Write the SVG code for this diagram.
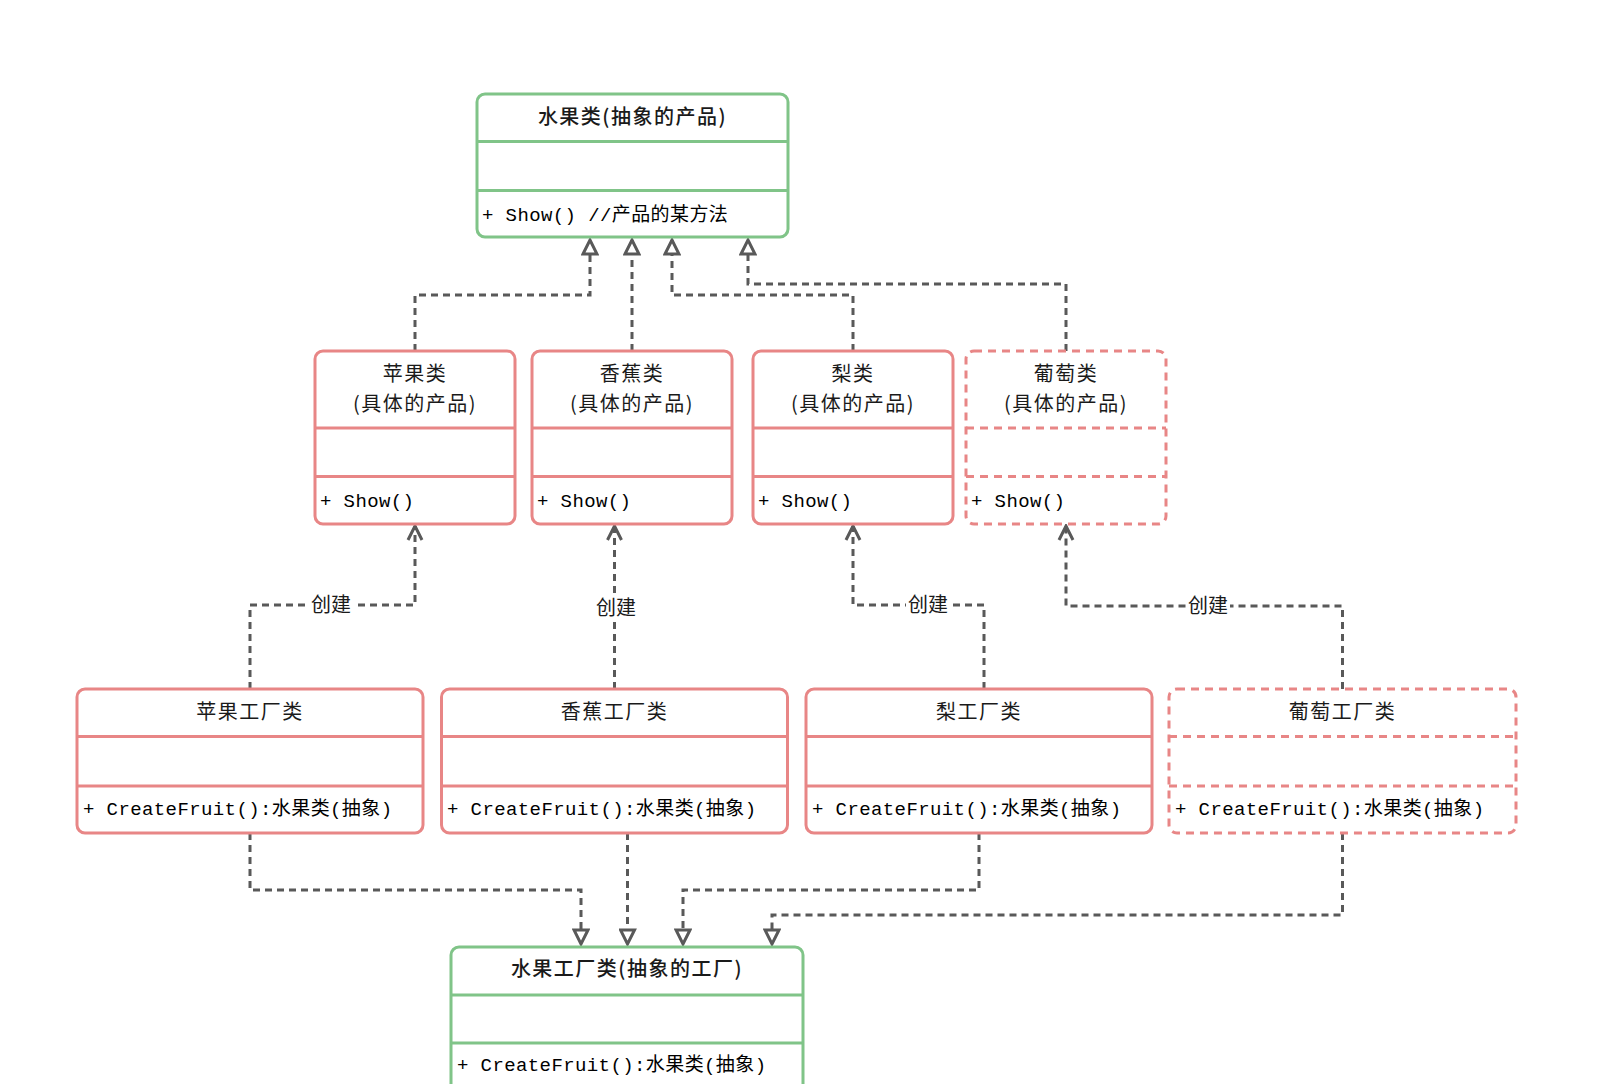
<svg xmlns="http://www.w3.org/2000/svg" width="1611" height="1084" viewBox="0 0 1611 1084">
<style>
.bg{fill:#ffffff}
.g{fill:#ffffff;stroke:#80c488;stroke-width:3}
.gl{stroke:#80c488;stroke-width:3;fill:none}
.r{fill:#ffffff;stroke:#e88686;stroke-width:3}
.rl{stroke:#e88686;stroke-width:3;fill:none}
.d{stroke-dasharray:8 6}
.title{font-family:"Noto Sans CJK SC","Liberation Serif",serif;font-size:20px;fill:#1a1a1a;text-anchor:middle;letter-spacing:1.5px}
.bold{font-weight:500}
.m{font-family:"Liberation Mono","Noto Sans CJK SC",monospace;font-size:19px;fill:#000000;letter-spacing:0.4px}
.c{stroke:#595959;stroke-width:3;fill:none;stroke-dasharray:7 5}
.lbl{font-family:"Noto Sans CJK SC","Liberation Sans",sans-serif;font-size:20px;fill:#1a1a1a;text-anchor:middle}
</style>
<defs>
<marker id="tri" markerUnits="userSpaceOnUse" markerWidth="18" markerHeight="18" viewBox="-2 -2 18 18" refX="14" refY="7" orient="auto">
<path d="M0,0 L14,7 L0,14 Z" fill="#ffffff" stroke="#595959" stroke-width="3" stroke-linejoin="miter"/>
</marker>
<marker id="open" markerUnits="userSpaceOnUse" markerWidth="18" markerHeight="18" viewBox="-2 -2 18 18" refX="14" refY="7" orient="auto">
<path d="M0,0 L14,7 L0,14" fill="none" stroke="#595959" stroke-width="3"/>
</marker>
</defs>
<rect class="bg" x="0" y="0" width="1611" height="1084"/>

<g id="connectors">
<path class="c" d="M415,351 V295 H590 V240" marker-end="url(#tri)"/>
<path class="c" d="M632,351 V240" marker-end="url(#tri)"/>
<path class="c" d="M853,351 V295 H672 V240" marker-end="url(#tri)"/>
<path class="c" d="M1066,351 V284 H748 V240" marker-end="url(#tri)"/>
<path class="c" d="M250,689 V605 H415 V526" marker-end="url(#open)"/>
<path class="c" d="M614.5,689 V526" marker-end="url(#open)"/>
<path class="c" d="M984,689 V605 H853 V526" marker-end="url(#open)"/>
<path class="c" d="M1342.5,689 V606 H1066 V526" marker-end="url(#open)"/>
<path class="c" d="M250,833 V890 H581 V944" marker-end="url(#tri)"/>
<path class="c" d="M627.5,833 V944" marker-end="url(#tri)"/>
<path class="c" d="M979,833 V890 H683 V944" marker-end="url(#tri)"/>
<path class="c" d="M1342.5,833 V915 H772 V944" marker-end="url(#tri)"/>
<rect x="309" y="592" width="44" height="26" fill="#ffffff"/>
<text class="lbl" x="331" y="612">创建</text>
<rect x="594" y="595" width="44" height="26" fill="#ffffff"/>
<text class="lbl" x="616" y="615">创建</text>
<rect x="906" y="592" width="44" height="26" fill="#ffffff"/>
<text class="lbl" x="928" y="612">创建</text>
<rect x="1186" y="593" width="44" height="26" fill="#ffffff"/>
<text class="lbl" x="1208" y="613">创建</text>
</g>

<g id="fruit">
<rect class="g" x="477" y="94" width="311" height="143" rx="8"/>
<line class="gl" x1="477" y1="141.5" x2="788" y2="141.5"/>
<line class="gl" x1="477" y1="190.5" x2="788" y2="190.5"/>
<text class="title bold" x="632.5" y="124">水果类(抽象的产品)</text>
<text class="m" x="482" y="221">+ Show() //产品的某方法</text>
</g>

<g id="apple">
<rect class="r" x="315" y="351" width="200" height="173" rx="8"/>
<line class="rl" x1="315" y1="428" x2="515" y2="428"/>
<line class="rl" x1="315" y1="476.5" x2="515" y2="476.5"/>
<text class="title" x="415" y="381">苹果类</text>
<text class="title" x="415" y="411">(具体的产品)</text>
<text class="m" x="320" y="507">+ Show()</text>
</g>

<g id="banana">
<rect class="r" x="532" y="351" width="200" height="173" rx="8"/>
<line class="rl" x1="532" y1="428" x2="732" y2="428"/>
<line class="rl" x1="532" y1="476.5" x2="732" y2="476.5"/>
<text class="title" x="632" y="381">香蕉类</text>
<text class="title" x="632" y="411">(具体的产品)</text>
<text class="m" x="537" y="507">+ Show()</text>
</g>

<g id="pear">
<rect class="r" x="753" y="351" width="200" height="173" rx="8"/>
<line class="rl" x1="753" y1="428" x2="953" y2="428"/>
<line class="rl" x1="753" y1="476.5" x2="953" y2="476.5"/>
<text class="title" x="853" y="381">梨类</text>
<text class="title" x="853" y="411">(具体的产品)</text>
<text class="m" x="758" y="507">+ Show()</text>
</g>

<g id="grape">
<rect class="r d" x="966" y="351" width="200" height="173" rx="8"/>
<line class="rl d" x1="966" y1="428" x2="1166" y2="428"/>
<line class="rl d" x1="966" y1="476.5" x2="1166" y2="476.5"/>
<text class="title" x="1066" y="381">葡萄类</text>
<text class="title" x="1066" y="411">(具体的产品)</text>
<text class="m" x="971" y="507">+ Show()</text>
</g>

<g id="apple-factory">
<rect class="r" x="77" y="689" width="346" height="144" rx="8"/>
<line class="rl" x1="77" y1="736.5" x2="423" y2="736.5"/>
<line class="rl" x1="77" y1="786" x2="423" y2="786"/>
<text class="title" x="250" y="719">苹果工厂类</text>
<text class="m" x="83" y="815">+ CreateFruit():水果类(抽象)</text>
</g>

<g id="banana-factory">
<rect class="r" x="441.5" y="689" width="346" height="144" rx="8"/>
<line class="rl" x1="441.5" y1="736.5" x2="787.5" y2="736.5"/>
<line class="rl" x1="441.5" y1="786" x2="787.5" y2="786"/>
<text class="title" x="614.5" y="719">香蕉工厂类</text>
<text class="m" x="447" y="815">+ CreateFruit():水果类(抽象)</text>
</g>

<g id="pear-factory">
<rect class="r" x="806" y="689" width="346" height="144" rx="8"/>
<line class="rl" x1="806" y1="736.5" x2="1152" y2="736.5"/>
<line class="rl" x1="806" y1="786" x2="1152" y2="786"/>
<text class="title" x="979" y="719">梨工厂类</text>
<text class="m" x="812" y="815">+ CreateFruit():水果类(抽象)</text>
</g>

<g id="grape-factory">
<rect class="r d" x="1169" y="689" width="347" height="144" rx="8"/>
<line class="rl d" x1="1169" y1="736.5" x2="1516" y2="736.5"/>
<line class="rl d" x1="1169" y1="786" x2="1516" y2="786"/>
<text class="title" x="1342.5" y="719">葡萄工厂类</text>
<text class="m" x="1175" y="815">+ CreateFruit():水果类(抽象)</text>
</g>

<g id="fruit-factory">
<rect class="g" x="451" y="947" width="352" height="170" rx="8"/>
<line class="gl" x1="451" y1="995" x2="803" y2="995"/>
<line class="gl" x1="451" y1="1043" x2="803" y2="1043"/>
<text class="title bold" x="627" y="976">水果工厂类(抽象的工厂)</text>
<text class="m" x="457" y="1071">+ CreateFruit():水果类(抽象)</text>
</g>
</svg>
